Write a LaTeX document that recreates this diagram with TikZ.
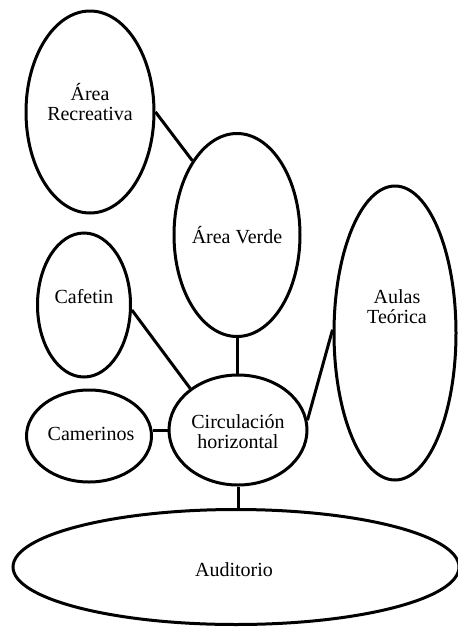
\documentclass[tikz,border=0pt]{standalone}
\usepackage{fontspec}
\setmainfont{Liberation Serif}
\usetikzlibrary{shapes.geometric}
\begin{document}
\begin{tikzpicture}[x=1pt,y=-1pt,
  area/.style={draw, ellipse, line width=3pt, inner sep=0pt},
  lbl/.style={font=\fontsize{20}{20}\selectfont, align=center, inner sep=0pt},
  link/.style={line width=3pt}]
\useasboundingbox (0,0) rectangle (458,627);
% ellipses
\node[area, minimum width=128pt, minimum height=202pt] (rec) at (90,112) {};
\node[area, minimum width=126pt, minimum height=203pt] (ver) at (237,235) {};
\node[area, minimum width=93pt, minimum height=144pt] (caf) at (84,305) {};
\node[area, minimum width=125pt, minimum height=92pt] (cam) at (89,436) {};
\node[area, minimum width=138pt, minimum height=110pt] (cir) at (238,430) {};
\node[area, minimum width=122pt, minimum height=294pt] (aul) at (395,333) {};
\node[area, minimum width=446pt, minimum height=115pt] (aud) at (236,567) {};
% labels
\node[lbl] (recT) at (90,102) {Área\\Recreativa};
\node[lbl] (verT) at (237,235) {Área Verde};
\node[lbl] (cafT) at (84,297) {Cafetin};
\node[lbl] (camT) at (91,434) {Camerinos};
\node[lbl] (cirT) at (238,432) {Circulación\\horizontal};
\node[lbl] (aulT) at (397,307) {Aulas\\Teórica};
\node[lbl] (audT) at (234,570) {Auditorio};
% connectors
\draw[link] (rec.east) -- (ver.121);
\draw[link] (caf.-6) -- (cir.139);
\draw[link] (ver.south) -- (ver.south |- cir.north);
\draw[link] (cir.west) -- (cir.west -| cam.east);
\draw[link] (cir.8) -- (aul.177);
\draw[link] (cir.south) -- (cir.south |- aud.north);
\end{tikzpicture}
\end{document}
